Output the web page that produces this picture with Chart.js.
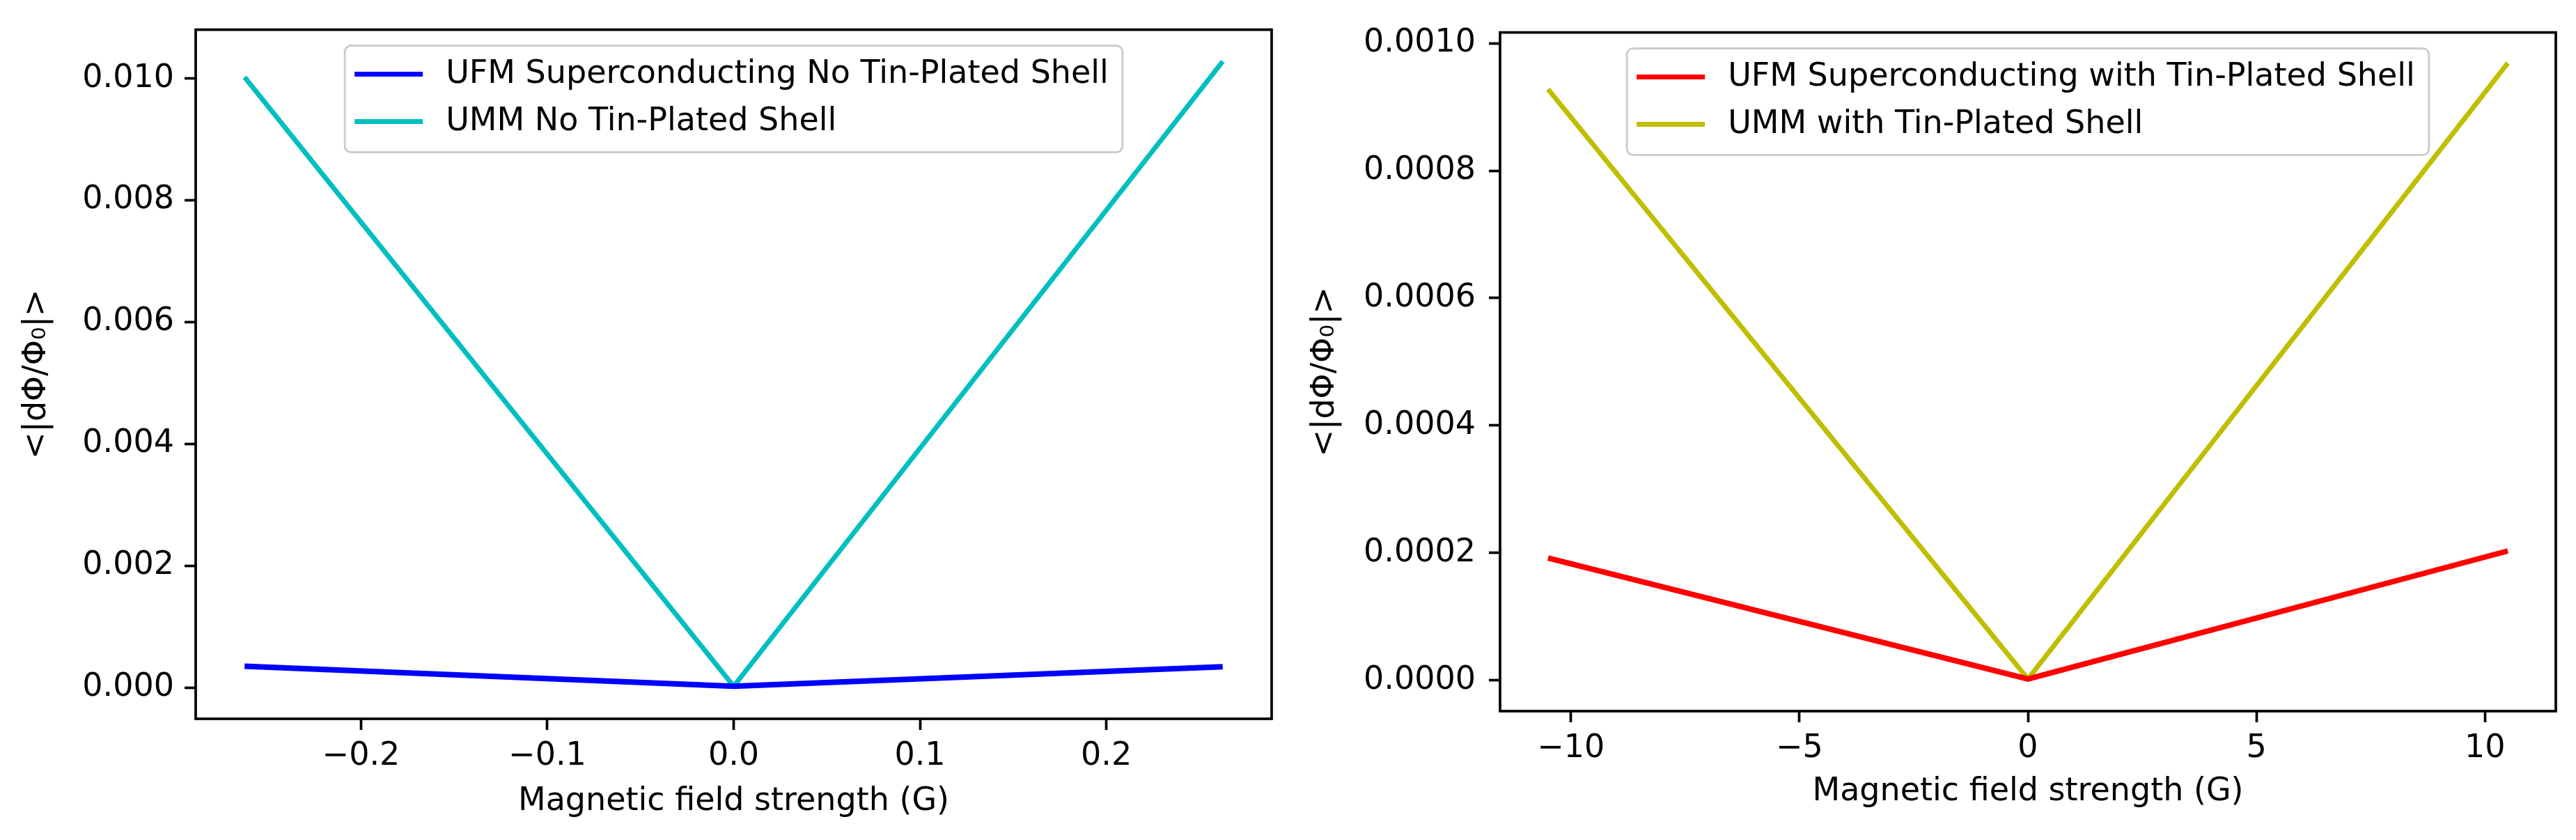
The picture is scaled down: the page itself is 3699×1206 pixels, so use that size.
<!DOCTYPE html>
<html><head><meta charset="utf-8">
<script src="https://cdn.jsdelivr.net/npm/chart.js@4.4.0/dist/chart.umd.min.js"></script>
<style>
html,body{margin:0;padding:0;background:#fff}
#wrap{position:relative;width:3699px;height:1206px;overflow:hidden;background:#fff}
canvas{position:absolute;top:0}
#cL{left:0}#cR{left:1850px}
</style></head><body>
<div id="wrap"><canvas id="cL" width="1850" height="1206"></canvas><canvas id="cR" width="1849" height="1206"></canvas></div>
<script>
// ── DATA ─────────────────────────────────────────
const fieldNoShell=[-0.2625,0,0.2625];
const ufmNoShell=[0.00035,0.00002,0.00034];
const ummNoShell=[0.01002,0.00002,0.01028];
const fieldShell=[-10.5,0,10.5];
const ufmShell=[0.000192,0.000002,0.000203];
const ummShell=[0.000928,0.000002,0.000969];
const xTicksL=[-0.2,-0.1,0,0.1,0.2];
const yTicksL=[0,0.002,0.004,0.006,0.008,0.010];
const xTicksR=[-10,-5,0,5,10];
const yTicksR=[0,0.0002,0.0004,0.0006,0.0008,0.0010];
const labelsL=['UFM Superconducting No Tin-Plated Shell','UMM No Tin-Plated Shell'];
const labelsR=['UFM Superconducting with Tin-Plated Shell','UMM with Tin-Plated Shell'];
const X_TITLE='Magnetic field strength (G)';
const Y_TITLE='<|dΦ/Φ₀|>';

// ── HELPERS ──────────────────────────────────────
const FONT={family:'"DejaVu Sans"',size:46};
function fmt(v,d){return (v<-1e-12?'\u2212':'')+Math.abs(v).toFixed(d)}
function pts(xs,ys){return xs.map((x,i)=>({x:x,y:ys[i]}))}

// legend box (upper centre, matplotlib-like) + axes frame
const frameLegend={id:'frameLegend',afterDraw(ch){
  const a=ch.chartArea,c=ch.ctx,ds=ch.data.datasets;
  c.save();
  c.font='46px "DejaVu Sans"';
  const tw=Math.max(...ds.map(d=>c.measureText(d.label).width));
  const w=14+98+33+tw+20,h=153;
  const x0=(a.left+a.right)/2-w/2,y0=a.top+23;
  c.beginPath();c.roundRect(x0,y0,w,h,9);
  c.fillStyle='rgba(255,255,255,0.8)';c.fill();
  c.strokeStyle='#cccccc';c.lineWidth=3;c.stroke();
  ds.forEach((d,i)=>{
    const y=y0+41+i*68;
    c.strokeStyle=d.borderColor;c.lineWidth=7;
    c.beginPath();c.moveTo(x0+14,y);c.lineTo(x0+112,y);c.stroke();
    c.fillStyle='#000';c.textBaseline='middle';c.textAlign='left';
    c.fillText(d.label,x0+145,y);
  });
  c.strokeStyle='#000';c.lineWidth=3.7;
  c.strokeRect(a.left,a.top,a.right-a.left,a.bottom-a.top);
  c.restore();
}};

function makeChart(id,cfg){
  const gridOpt={drawOnChartArea:false,drawTicks:true,tickLength:16,tickWidth:3.7,tickColor:'#000'};
  return new Chart(document.getElementById(id),{
    type:'line',
    data:{datasets:[
      {label:cfg.labels[0],data:pts(cfg.xs,cfg.ufm),borderColor:cfg.cols[0],borderWidth:8,pointRadius:0,tension:0,borderJoinStyle:'round'},
      {label:cfg.labels[1],data:pts(cfg.xs,cfg.umm),borderColor:cfg.cols[1],borderWidth:7,pointRadius:0,tension:0,borderJoinStyle:'round'}
    ]},
    options:{
      responsive:false,devicePixelRatio:1,animation:false,
      layout:{padding:{left:0,top:cfg.top,right:cfg.right,bottom:0}},
      plugins:{legend:{display:false},tooltip:{enabled:false}},
      scales:{
        x:{type:'linear',min:cfg.xr[0],max:cfg.xr[1],
          afterBuildTicks:s=>{s.ticks=cfg.xt.map(v=>({value:v}))},
          afterFit:s=>{s.height=cfg.xh},
          ticks:{callback:v=>fmt(v,cfg.xd),font:FONT,color:'#000',padding:10,maxRotation:0,autoSkip:false},
          grid:gridOpt,border:{display:false},
          title:{display:true,text:X_TITLE,font:FONT,color:'#000',padding:{top:0,bottom:cfg.xtp}}},
        y:{type:'linear',min:cfg.yr[0],max:cfg.yr[1],
          afterBuildTicks:s=>{s.ticks=cfg.yt.map(v=>({value:v}))},
          afterFit:s=>{s.width=cfg.yw},
          ticks:{callback:v=>fmt(v,cfg.yd),font:FONT,color:'#000',padding:cfg.ypad,autoSkip:false},
          grid:gridOpt,border:{display:false},
          title:{display:true,text:Y_TITLE,font:FONT,color:'#000',padding:{top:25,bottom:0}}}
      }
    },
    plugins:[frameLegend]
  });
}

makeChart('cL',{xs:fieldNoShell,ufm:ufmNoShell,umm:ummNoShell,cols:['#0000ff','#00bfbf'],labels:labelsL,
  xr:[-0.28875,0.28875],yr:[-0.000514,0.0108],xt:xTicksL,yt:yTicksL,xd:1,yd:3,
  top:29,right:24,yw:281,xh:174,xtp:27,ypad:15});
makeChart('cR',{xs:fieldShell,ufm:ufmShell,umm:ummShell,cols:['#ff0000','#bfbf00'],labels:labelsR,
  xr:[-11.55,11.55],yr:[-0.0000485,0.001017],xt:xTicksR,yt:yTicksR,xd:0,yd:4,
  top:32,right:29,yw:304,xh:185,xtp:41,ypad:19});
</script>
</body></html>
